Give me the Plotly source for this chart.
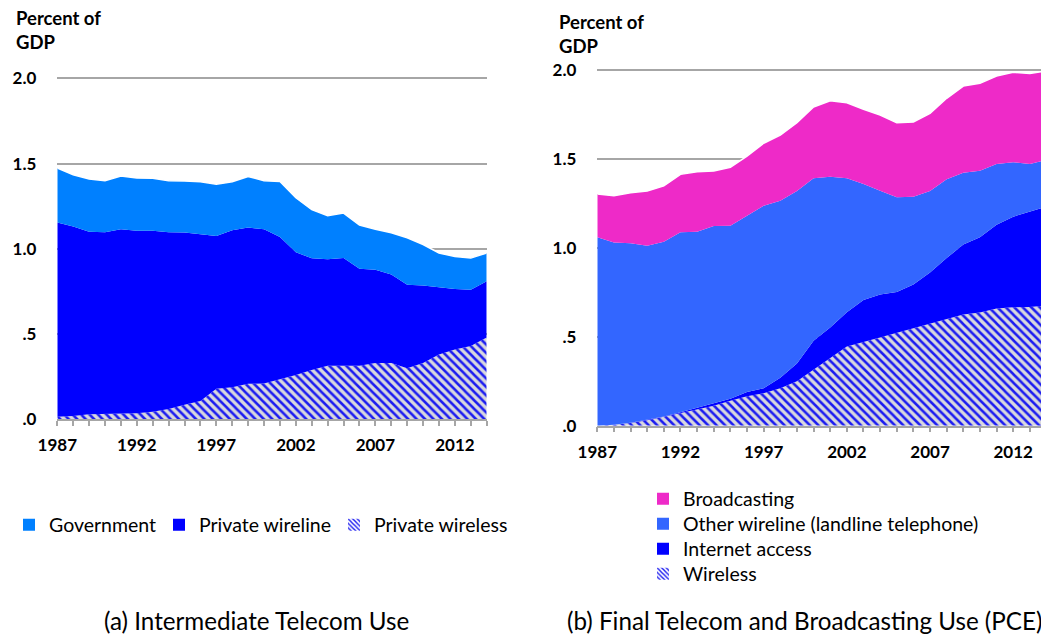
import plotly.graph_objects as go

# ---------------- data ----------------
years = list(range(1987, 2015))

# (a) Intermediate Telecom Use, percent of GDP (stacked components)
a_private_wireless = [0.015, 0.02, 0.03, 0.033, 0.033, 0.035, 0.045, 0.06, 0.085, 0.108, 0.18, 0.188, 0.208, 0.21,
                      0.235, 0.26, 0.29, 0.315, 0.315, 0.315, 0.33, 0.33, 0.30, 0.33, 0.38, 0.41, 0.43, 0.48]
a_private_wireline = [1.14, 1.111, 1.07, 1.065, 1.083, 1.071, 1.061, 1.038, 1.011, 0.98, 0.896, 0.922, 0.917, 0.905,
                      0.835, 0.72, 0.655, 0.625, 0.631, 0.569, 0.548, 0.52, 0.49, 0.455, 0.395, 0.355, 0.33, 0.33]
a_government = [0.32, 0.304, 0.31, 0.302, 0.312, 0.31, 0.308, 0.302, 0.302, 0.306, 0.304, 0.284, 0.30, 0.285,
                0.325, 0.32, 0.285, 0.255, 0.264, 0.256, 0.237, 0.245, 0.275, 0.241, 0.201, 0.19, 0.186, 0.166]

# (b) Final Telecom and Broadcasting Use (PCE), percent of GDP (stacked components)
b_wireless = [0.0, 0.005, 0.015, 0.03, 0.05, 0.07, 0.09, 0.112, 0.14, 0.165, 0.182, 0.21, 0.25, 0.315,
              0.383, 0.446, 0.471, 0.497, 0.523, 0.55, 0.576, 0.60, 0.626, 0.637, 0.66, 0.666, 0.668, 0.677]
b_internet = [0.0, 0.0, 0.001, 0.002, 0.002, 0.005, 0.01, 0.013, 0.012, 0.025, 0.028, 0.06, 0.10, 0.163,
              0.169, 0.192, 0.236, 0.241, 0.229, 0.245, 0.286, 0.343, 0.394, 0.423, 0.47, 0.51, 0.536, 0.555]
b_other_wireline = [1.06, 1.025, 1.011, 0.981, 0.983, 1.013, 0.991, 0.998, 0.973, 0.99, 1.028, 0.996, 0.97, 0.914,
                    0.849, 0.754, 0.653, 0.584, 0.533, 0.493, 0.458, 0.443, 0.403, 0.375, 0.342, 0.306, 0.268, 0.263]
b_broadcasting = [0.243, 0.264, 0.284, 0.307, 0.314, 0.326, 0.338, 0.31, 0.329, 0.337, 0.351, 0.369, 0.385, 0.401,
                  0.427, 0.425, 0.42, 0.426, 0.42, 0.421, 0.437, 0.456, 0.488, 0.491, 0.495, 0.506, 0.51, 0.50]

y_tickvals = [0, 0.5, 1.0, 1.5, 2.0]
y_ticktext = [".0", ".5", "1.0", "1.5", "2.0"]
x_tickvals = [1987, 1992, 1997, 2002, 2007, 2012]

# ---------------- styles ----------------
GOV = "#0080ff"
WIRELINE = "#0000ff"
BROAD = "#ee2ac8"
OTHER = "#3366ff"
INTERNET = "#0000ff"
HATCH = dict(shape="\\", fgcolor="#1c1cf0", bgcolor="#d8d8de", size=6, solidity=0.42, fillmode="replace")
HATCH_LEG = dict(shape="\\", fgcolor="#1c1cf0", bgcolor="#ffffff", size=4, solidity=0.45, fillmode="replace")
GRID = "#a6a6a6"
FONT = "Lato"
YMAX = 2.01
W, H = 1041, 635

fig = go.Figure()

def area(x, y, name, xa, ya, color=None, pattern=None, top=False):
    kw = dict(x=x, y=y, name=name, xaxis=xa, yaxis=ya, mode="lines",
              stackgroup=xa, showlegend=False, hoverinfo="x+y+name")
    if top:
        kw["line"] = dict(width=1.5, color="white")
    else:
        kw["line"] = dict(width=0)
    if pattern is not None:
        kw["fillpattern"] = pattern
        kw["fillcolor"] = pattern["bgcolor"]
    else:
        kw["fillcolor"] = color
    fig.add_trace(go.Scatter(**kw))

# panel (a)
area(years, a_private_wireless, "Private wireless", "x", "y", pattern=HATCH)
area(years, a_private_wireline, "Private wireline", "x", "y", color=WIRELINE)
area(years, a_government, "Government", "x", "y", color=GOV, top=True)

# panel (b)
area(years, b_wireless, "Wireless", "x2", "y2", pattern=HATCH)
area(years, b_internet, "Internet access", "x2", "y2", color=INTERNET)
area(years, b_other_wireline, "Other wireline (landline telephone)", "x2", "y2", color=OTHER)
area(years, b_broadcasting, "Broadcasting", "x2", "y2", color=BROAD, top=True)

# legend entries (square swatches), one small legend per entry so each can be placed
legend_font = dict(family=FONT, size=19.5, color="black")
legends = {}

def swatch(name, legend, xa, ya, text_x, text_y, color=None, pattern=None):
    marker = dict(color=color if color else "white", line=dict(width=0))
    if pattern is not None:
        marker["pattern"] = pattern
    fig.add_trace(go.Bar(x=[None], y=[None], name=name, marker=marker,
                         legend=legend, xaxis=xa, yaxis=ya, showlegend=True))
    legends[legend] = dict(x=(text_x - 38) / W, xanchor="left", y=(H - text_y) / H, yanchor="middle",
                           font=legend_font, bgcolor="rgba(0,0,0,0)", borderwidth=0,
                           itemclick=False, itemdoubleclick=False)

swatch("Government", "legend", "x", "y", 47, 525, color=GOV)
swatch("Private wireline", "legend2", "x", "y", 197, 525, color=WIRELINE)
swatch("Private wireless", "legend3", "x", "y", 372, 525, pattern=HATCH_LEG)

swatch("Broadcasting", "legend4", "x2", "y2", 681, 499, color=BROAD)
swatch("Other wireline (landline telephone)", "legend5", "x2", "y2", 681, 524, color=OTHER)
swatch("Internet access", "legend6", "x2", "y2", 681, 549, color=INTERNET)
swatch("Wireless", "legend7", "x2", "y2", 681, 574, pattern=HATCH_LEG)

tickfont = dict(family=FONT, size=17, color="black", weight="bold")

def xaxis(domain, rng, anchor):
    return dict(domain=domain, range=rng, tickvals=x_tickvals, ticks="outside", ticklen=5,
                tickwidth=1.5, tickcolor=GRID, showline=True, linecolor=GRID, linewidth=1.5,
                showgrid=False, zeroline=False, tickfont=tickfont, ticklabelstandoff=5,
                minor=dict(dtick=1, tick0=1987, ticks="outside", ticklen=5, tickwidth=1.5,
                           tickcolor=GRID, showgrid=False),
                anchor=anchor, automargin=False, fixedrange=True)

def yaxis(y0px, y2px, anchor):
    # domain chosen so that value 0 sits at y0px and value 2.0 at y2px
    per = (y0px - y2px) / 2.0
    top_px = y0px - per * YMAX
    return dict(domain=[(H - y0px) / H, (H - top_px) / H], range=[0, YMAX],
                tickvals=y_tickvals, ticktext=y_ticktext,
                showgrid=True, gridcolor=GRID, gridwidth=1.5, zeroline=False, showline=False,
                ticks="", tickfont=tickfont, ticklabelstandoff=20, anchor=anchor,
                automargin=False, fixedrange=True)

fig.update_layout(
    width=W, height=H,
    margin=dict(l=0, r=0, t=0, b=0, pad=0, autoexpand=False),
    paper_bgcolor="white", plot_bgcolor="white",
    xaxis=xaxis([57.3 / W, 486.7 / W], [1987, 2014], "y"),
    yaxis=yaxis(419.3, 78.5, "x"),
    xaxis2=xaxis([597.3 / W, 1.0], [1987, 2013.67], "y2"),
    yaxis2=yaxis(425.7, 70.2, "x2"),
    showlegend=True,
    annotations=[
        dict(text="Percent of<br>GDP", x=14 / W, y=(H - 5) / H, xref="paper", yref="paper",
             xanchor="left", yanchor="top", showarrow=False, align="left",
             font=dict(family=FONT, size=18.5, color="black", weight="bold")),
        dict(text="Percent of<br>GDP", x=557 / W, y=(H - 9) / H, xref="paper", yref="paper",
             xanchor="left", yanchor="top", showarrow=False, align="left",
             font=dict(family=FONT, size=18.5, color="black", weight="bold")),
        dict(text="(a) Intermediate Telecom Use", x=102 / W, y=(H - 620) / H, xref="paper",
             yref="paper", xanchor="left", yanchor="middle", showarrow=False,
             font=dict(family=FONT, size=24.2, color="black")),
        dict(text="(b) Final Telecom and Broadcasting Use (PCE)", x=565 / W, y=(H - 620) / H,
             xref="paper", yref="paper", xanchor="left", yanchor="middle", showarrow=False,
             font=dict(family=FONT, size=24.2, color="black")),
    ],
)
fig.update_layout(**legends)

fig.write_html("out.html", config={"displayModeBar": False},
               post_script="document.body.style.margin='0';document.body.style.overflow='hidden';")
